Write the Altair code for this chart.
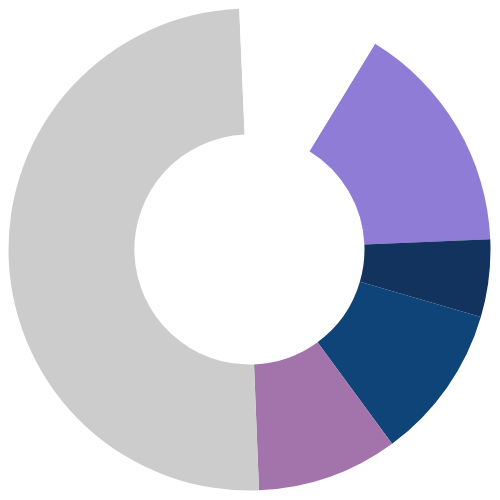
import altair as alt
import pandas as pd
import math

categories = ["A", "B", "C", "D", "E", "Gap"]
values = [15.6, 5.2, 10.4, 9.45, 49.95, 9.4]
colors = ["#8E7CD6", "#12335E", "#0E4477", "#A274AB", "#CCCCCC", "#FFFFFF"]
order = [0, 1, 2, 3, 4, 5]

df = pd.DataFrame({"cat": categories, "value": values, "idx": order})

start = math.radians(31.4)

chart = alt.Chart(df).mark_arc(radius=241, radius2=115).encode(
    theta=alt.Theta("value:Q", stack=True, scale=alt.Scale(range=[start, start + 2 * math.pi])),
    color=alt.Color("cat:N", scale=alt.Scale(domain=categories, range=colors), legend=None),
    order=alt.Order("idx:Q"),
).properties(width=483, height=483, padding=0).configure_view(stroke=None)

chart.save("out.html", embed_options={"renderer": "svg", "actions": False})
